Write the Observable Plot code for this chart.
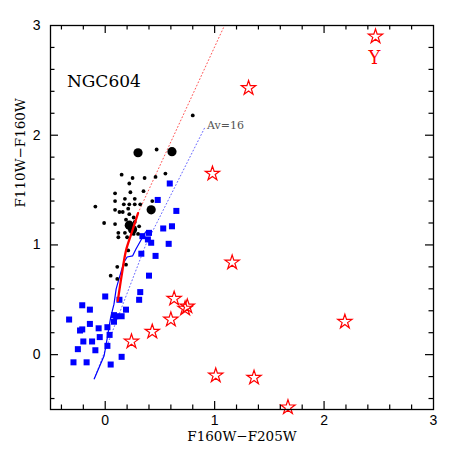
<!DOCTYPE html>
<html>
<head>
<meta charset="utf-8">
<script src="https://cdn.jsdelivr.net/npm/d3@7"></script>
<script src="https://cdn.jsdelivr.net/npm/@observablehq/plot@0.6"></script>
<style>
  html, body { margin: 0; padding: 0; background: #fff; }
  svg { display: block; }
</style>
</head>
<body>
<script>
// ---- data (F160W-F205W, F110W-F160W) ----
const blueSquares = [
  [0.59,1.56],[0.48,1.41],[0.65,1.31],[0.61,1.17],[0.53,1.15],[0.58,1.01],
  [0.40,1.11],[0.34,1.08],[0.39,1.05],[0.42,1.02],[0.33,0.92],[0.46,0.90],
  [0.40,0.72],[0.32,0.57],[0.31,0.50],
  [0.00,0.53],[-0.21,0.45],[-0.14,0.41],[-0.33,0.32],[0.13,0.50],[0.19,0.41],
  [0.08,0.36],[0.10,0.35],[0.15,0.35],[0.08,0.30],[-0.14,0.28],[-0.23,0.22],
  [-0.21,0.23],[-0.06,0.24],[0.02,0.25],[0.04,0.18],[-0.05,0.16],[-0.12,0.12],
  [-0.20,0.12],[0.02,0.08],[-0.09,0.04],[-0.25,0.05],[0.15,-0.02],[-0.29,-0.07],
  [-0.17,-0.07],[0.05,-0.09]
];
const smallDots = [
  [0.80,2.18],[0.47,1.87],[0.15,1.64],[0.25,1.61],[0.36,1.61],[0.46,1.62],
  [0.55,1.65],[0.22,1.56],[0.09,1.47],[0.23,1.48],[0.35,1.49],[0.09,1.40],
  [0.18,1.42],[0.27,1.42],[0.43,1.40],[-0.09,1.35],[0.09,1.32],[0.17,1.37],
  [0.22,1.37],[0.27,1.37],[0.13,1.30],[0.16,1.30],[0.21,1.33],[0.22,1.28],
  [0.32,1.37],[0.19,1.23],[0.26,1.25],[-0.01,1.20],[0.09,1.19],[0.27,1.21],
  [0.31,1.17],[0.12,1.11],[0.12,1.07],[0.18,1.11],[0.20,1.07],[0.26,1.10],
  [0.30,1.10],[0.21,0.95],[0.19,0.82],[0.11,0.80],[0.05,0.72],[0.11,0.69]
];
const bigDots = [
  [0.30,1.84],[0.61,1.85],[0.42,1.32],[0.22,1.18],[0.25,1.14]
];
const stars = [
  [2.47,2.90],[1.31,2.43],[0.98,1.65],[1.16,0.84],[2.19,0.30],[0.63,0.51],
  [0.73,0.42],[0.75,0.44],[0.60,0.32],[0.43,0.21],[0.24,0.12],[1.01,-0.19],
  [1.36,-0.21],[1.67,-0.48]
];
const redTrack = [[0.115,0.49],[0.15,0.72],[0.19,0.95],[0.245,1.12],[0.30,1.29]];
const redDotted = [[0.30,1.29],[1.09,3.0]];
const blueTrack = [
  [-0.10,-0.22],[-0.01,-0.01],[0.02,0.16],[0.05,0.34],[0.08,0.46],[0.10,0.60],
  [0.12,0.67],[0.17,0.84],[0.20,0.89],[0.25,0.90],[0.28,0.96],[0.33,1.05],[0.37,1.12]
];
const blueDotted = [[-0.10,-0.22],[0.37,1.00],[0.91,2.07]];
const majorTicks = [0, 1, 2];
const minorTicks = [-0.4,-0.2,0.2,0.4,0.6,0.8,1.2,1.4,1.6,1.8,2.2,2.4,2.6,2.8];
const tickLabels = [0, 1, 2, 3];
const xLabel = "F160W\u2212F205W";
const yLabel = "F110W\u2212F160W";
const title = ["NGC604"];
const avLabel = [{x: 0.93, y: 2.09, t: "Av=16"}];
const yStar = [{x: 2.46, y: 2.70, t: "Y"}];

// ---- layout ----
const W = 458, H = 458, mL = 50, mR = 25, mT = 25, mB = 49;
const iW = W - mL - mR, iH = H - mT - mB;
const MAJ = 8, MIN = 4.5;
const serif = "DejaVu Serif";

const chart = Plot.plot({
  width: W, height: H,
  marginLeft: mL, marginRight: mR, marginTop: mT, marginBottom: mB,
  x: {domain: [-0.5, 3], axis: null},
  y: {domain: [-0.5, 3], axis: null},
  style: {fontFamily: "Liberation Sans", fontSize: "14px", background: "white", color: "black"},
  marks: [
    // dotted reddening/track lines
    Plot.line(redDotted, {x: d => d[0], y: d => d[1], stroke: "#ff5555", strokeWidth: 1, strokeDasharray: "1,2.5"}),
    Plot.line(blueDotted, {x: d => d[0], y: d => d[1], stroke: "#6666ff", strokeWidth: 1, strokeDasharray: "1,2.5"}),
    // data
    Plot.dot(blueSquares, {x: d => d[0], y: d => d[1], symbol: "square", r: 3.4, fill: "#0000ff", stroke: "none"}),
    Plot.line(blueTrack, {x: d => d[0], y: d => d[1], stroke: "#0000ff", strokeWidth: 1.2, curve: "linear"}),
    Plot.dot(smallDots, {x: d => d[0], y: d => d[1], r: 1.9, fill: "black", stroke: "none"}),
    Plot.dot(bigDots, {x: d => d[0], y: d => d[1], r: 4.6, fill: "black", stroke: "none"}),
    Plot.line(redTrack, {x: d => d[0], y: d => d[1], stroke: "#ff0000", strokeWidth: 2.3, curve: "catmull-rom"}),
    Plot.dot(stars, {x: d => d[0], y: d => d[1], symbol: "star", r: 4.5, fill: "none", stroke: "#ff0000", strokeWidth: 1.2}),
    // annotations
    Plot.text(title, {x: () => -0.35, y: () => 2.486, text: d => d, textAnchor: "start", fontFamily: serif, fontSize: 17, fill: "black"}),
    Plot.text(avLabel, {x: "x", y: "y", text: "t", textAnchor: "start", fontFamily: serif, fontSize: 11, fill: "#555"}),
    Plot.text(yStar, {x: "x", y: "y", text: "t", fontFamily: serif, fontSize: 18, fill: "#ff0000"}),
    // frame and inward ticks on all sides
    Plot.frame({stroke: "black", strokeWidth: 1.3}),
    Plot.tickX(majorTicks, {x: d => d, insetTop: iH - MAJ, stroke: "black", strokeWidth: 1.2}),
    Plot.tickX(minorTicks, {x: d => d, insetTop: iH - MIN, stroke: "black", strokeWidth: 1.2}),
    Plot.tickX(majorTicks, {x: d => d, insetBottom: iH - MAJ, stroke: "black", strokeWidth: 1.2}),
    Plot.tickX(minorTicks, {x: d => d, insetBottom: iH - MIN, stroke: "black", strokeWidth: 1.2}),
    Plot.tickY(majorTicks, {y: d => d, insetRight: iW - MAJ, stroke: "black", strokeWidth: 1.2}),
    Plot.tickY(minorTicks, {y: d => d, insetRight: iW - MIN, stroke: "black", strokeWidth: 1.2}),
    Plot.tickY(majorTicks, {y: d => d, insetLeft: iW - MAJ, stroke: "black", strokeWidth: 1.2}),
    Plot.tickY(minorTicks, {y: d => d, insetLeft: iW - MIN, stroke: "black", strokeWidth: 1.2}),
    // tick labels
    Plot.axisX(tickLabels, {anchor: "bottom", tickSize: 0, tickPadding: 6, label: null, tickFormat: d => String(d), fontSize: 14}),
    Plot.axisY(tickLabels, {anchor: "left", tickSize: 0, tickPadding: 10, label: null, tickFormat: d => String(d), fontSize: 14}),
    // axis titles
    Plot.text([xLabel], {frameAnchor: "bottom", dy: 31, text: d => d, fontFamily: serif, fontSize: 13.5, fill: "black"}),
    Plot.text([yLabel], {frameAnchor: "left", dx: -30, dy: -10, rotate: -90, text: d => d, fontFamily: serif, fontSize: 13.5, fill: "black"})
  ]
});
document.body.appendChild(chart);
</script>
</body>
</html>
